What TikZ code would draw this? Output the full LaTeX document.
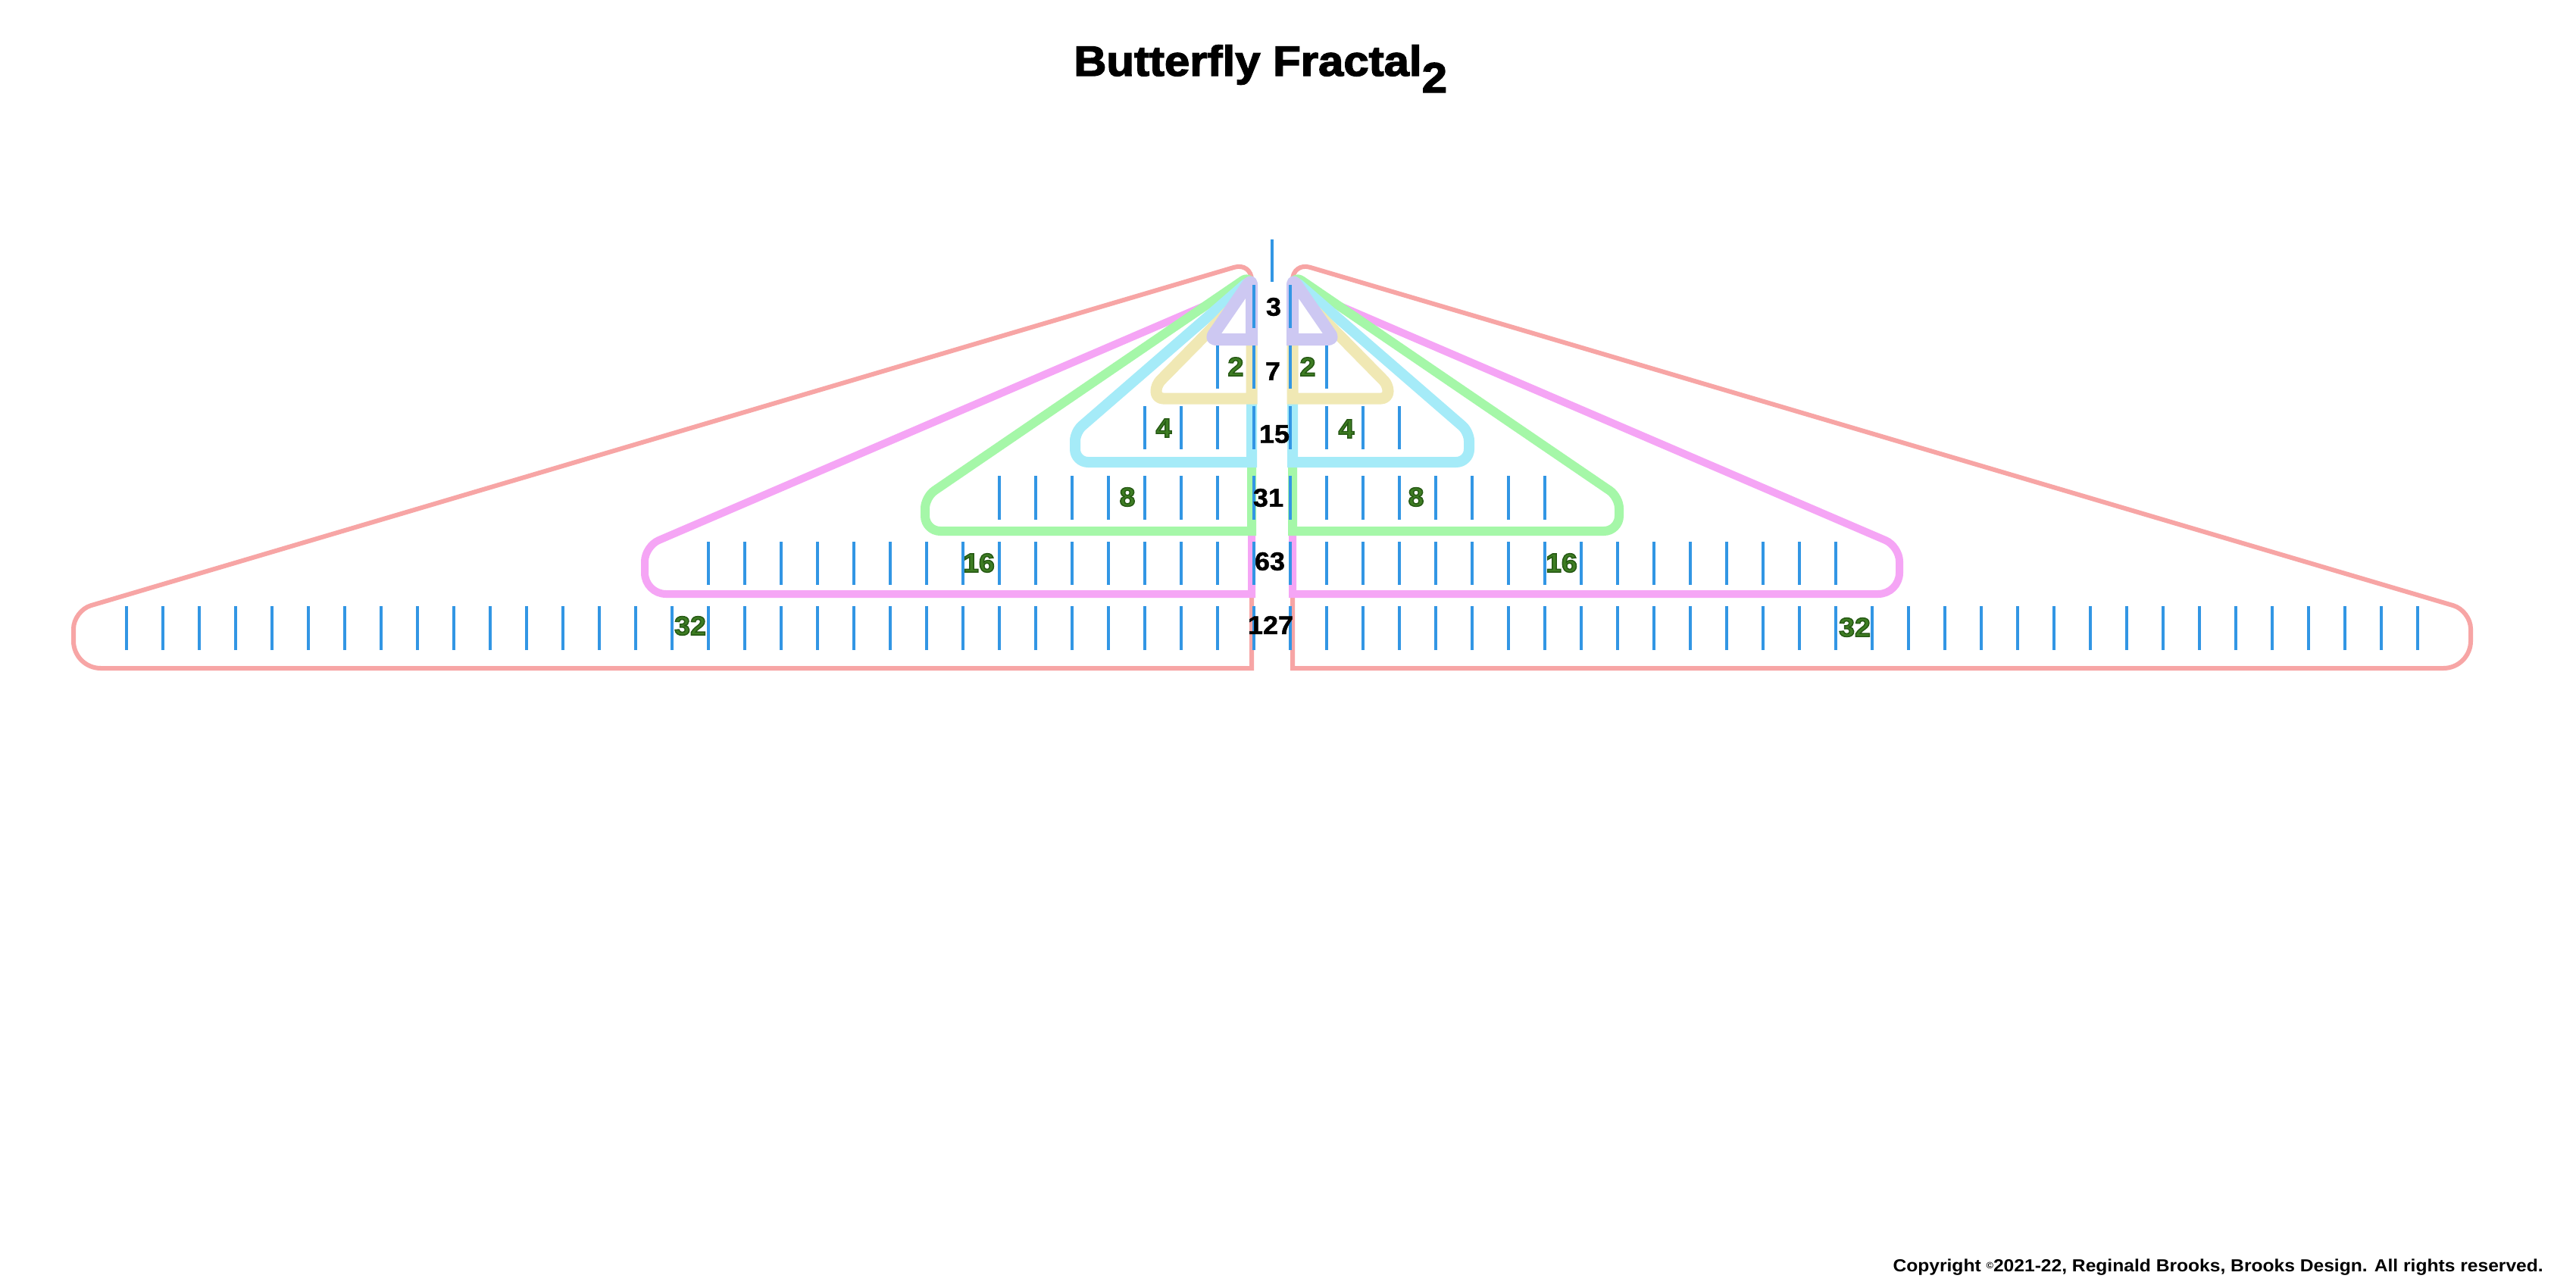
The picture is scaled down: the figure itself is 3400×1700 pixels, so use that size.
\documentclass[tikz,border=0pt]{standalone}
\usepackage{fontspec}
\newfontfamily\hv{Liberation Sans}[FakeStretch=1.07]
\newfontfamily\hvnum{Liberation Sans}[FakeStretch=1.06,FakeBold=1.2]
\newfontfamily\hvheavy{Liberation Sans}[FakeStretch=1.07,FakeBold=2.5]
\definecolor{cred}{RGB}{247,165,165}
\definecolor{cmag}{RGB}{245,165,245}
\definecolor{cgrn}{RGB}{165,247,168}
\definecolor{ccyn}{RGB}{165,235,248}
\definecolor{cyel}{RGB}{240,232,180}
\definecolor{cpur}{RGB}{205,200,242}
\definecolor{tickblue}{RGB}{50,150,228}
\definecolor{gfill}{RGB}{62,125,35}
% #1 colour, #2 width, #3 apex y, #4 left x, #5 left top y, #6 bottom y, #7-#9 radii
\newcommand\wingpath[9]{\draw[wingline,draw=#1,fill=white,line width=#2pt,rounded corners=#7pt]
  (1652,{#6+#2/2}) -- (1652,#3) -- (#4,#5) [rounded corners=#8pt] -- (#4,#6)
  [rounded corners=#9pt] -- ({1652+#2/2},#6);}
\newcommand\allwings{%
  \wingpath{cred}{6}{346}{97}{806}{882}{24}{36}{40}
  \wingpath{cmag}{10}{377}{851}{721}{784}{20}{28}{32}
  \wingpath{cgrn}{12}{362}{1221}{656}{701}{15}{20}{22}
  \wingpath{ccyn}{14}{368}{1419}{570}{610}{12}{17}{19}
  \wingpath{cyel}{15}{380}{1526}{508}{526}{8}{9}{9}
  \draw[wingline,draw=cpur,fill=white,line width=16pt,rounded corners=8pt]
    (1652,456) -- (1652,368) -- (1597,448) -- (1660,448);
}
\newcommand\glab[3]{\node[grnlab] (#1) at (#2) {\special{pdf:literal direct 0.15 0.35 0.08 RG 1.5 w 2 Tr}#3\special{pdf:literal direct 0 Tr}};}
\begin{document}
\begin{tikzpicture}[x=1pt,y=-1pt,
  tick/.style={draw=tickblue,line width=3.5pt},
  wingline/.style={line cap=butt,line join=round},
  numlab/.style={font=\hvnum\bfseries\fontsize{34}{36}\selectfont,inner sep=0pt,text=black},
  grnlab/.style={font=\hv\bfseries\fontsize{35}{36}\selectfont,inner sep=0pt,text=gfill}]
\fill[white] (0,0) rectangle (3400,1700);
\useasboundingbox (0,0) rectangle (3400,1700);

% title
\node[anchor=base west,inner sep=0pt,font=\hvheavy\bfseries\fontsize{56}{60}\selectfont] (title) at (1417,100)
  {Butterfly Fractal\raisebox{-22pt}{2}};

% wings
\allwings
\begin{scope}[shift={(3358,0)},xscale=-1]
  \allwings
\end{scope}

% ticks
\draw[tick] (1679,316) -- (1679,372);
\foreach \yt/\yb/\n in {376/433/0, 456/513/1, 536/593/3, 628/686/7, 715/772/15, 800/858/31}{
  \foreach \k in {0,...,\n}{
    \draw[tick] ({1655-48*\k},\yt) -- ({1655-48*\k},\yb);
    \draw[tick] ({1703+48*\k},\yt) -- ({1703+48*\k},\yb);
  }
}

% totals
\node[numlab] (n3) at (1681,405) {3};
\node[numlab] (n7) at (1680,490) {7};
\node[numlab] (n15) at (1682,573) {15};
\node[numlab] (n31) at (1674,657) {31};
\node[numlab] (n63) at (1676,741) {63};
\node[numlab] (n127) at (1677,825) {127};

% per-side counts
\glab{g2l}{1631,484}{2}
\glab{g2r}{1726,484}{2}
\glab{g4l}{1536,565}{4}
\glab{g4r}{1777,566}{4}
\glab{g8l}{1488,656}{8}
\glab{g8r}{1869,656}{8}
\glab{g16l}{1292,743}{16}
\glab{g16r}{2061,743}{16}
\glab{g32l}{911,826}{32}
\glab{g32r}{2448,828}{32}

% copyright
\node[anchor=base east,inner sep=0pt,font=\hv\bfseries\fontsize{23}{25}\selectfont] (copy) at (3357,1678)
  {Copyright \raisebox{4pt}{\fontsize{12}{12}\selectfont ©}2021-22, Reginald Brooks, Brooks Design. All rights reserved.};
\end{tikzpicture}
\end{document}
